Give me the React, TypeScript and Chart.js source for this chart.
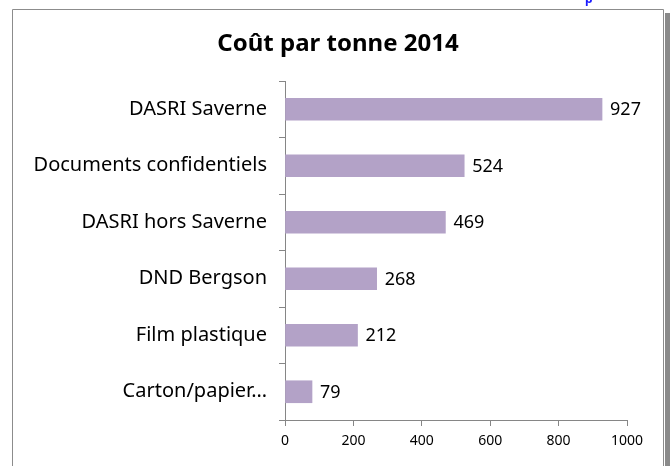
import React, { useEffect, useRef } from "react";
import { Chart, registerables } from "chart.js";
Chart.register(...registerables);

const chartTitle = "Coût par tonne 2014";
const categories = [
  "DASRI Saverne",
  "Documents confidentiels",
  "DASRI hors Saverne",
  "DND Bergson",
  "Film plastique",
  "Carton/papier…",
];
const costPerTonne = [927, 524, 469, 268, 212, 79];
const xMin = 0;
const xMax = 1000;
const xStep = 200;

const FONT = "'Noto Sans'";
const AXIS_COLOR = "#868686";
const BAR_COLOR = "#B3A2C7";

const framePlugin = {
  id: "frame",
  beforeDraw(chart: any) {
    const ctx = chart.ctx;
    const w = chart.width;
    const h = chart.height;
    ctx.save();
    ctx.fillStyle = "#ffffff";
    ctx.fillRect(0, 0, w, h);
    ctx.fillStyle = "#8a8a8a";
    ctx.fillRect(665, 13, 5, h - 13);
    ctx.strokeStyle = "#8c8c8c";
    ctx.lineWidth = 1;
    ctx.beginPath();
    ctx.moveTo(12.5, h);
    ctx.lineTo(12.5, 9.5);
    ctx.lineTo(663.5, 9.5);
    ctx.lineTo(663.5, h);
    ctx.stroke();
    ctx.fillStyle = "#1a1aff";
    ctx.font = "bold 12px " + FONT;
    ctx.textBaseline = "bottom";
    ctx.fillText("p", 585, 6);
    // title, centred on the frame
    ctx.fillStyle = "#000000";
    ctx.font = "bold 24px " + FONT;
    ctx.textAlign = "center";
    ctx.textBaseline = "middle";
    ctx.fillText(chartTitle, 338, 44);
    ctx.restore();
  },
};

const valueLabelPlugin = {
  id: "valueLabels",
  afterDatasetsDraw(chart: any) {
    const ctx = chart.ctx;
    const meta = chart.getDatasetMeta(0);
    const data = chart.data.datasets[0].data as number[];
    ctx.save();
    ctx.fillStyle = "#000000";
    ctx.font = "18px " + FONT;
    ctx.textAlign = "left";
    ctx.textBaseline = "middle";
    meta.data.forEach((bar: any, i: number) => {
      ctx.fillText(String(data[i]), bar.x + 8, bar.y + 1);
    });
    ctx.restore();
  },
};

export default function App() {
  const ref = useRef<HTMLCanvasElement | null>(null);
  useEffect(() => {
    document.body.style.margin = "0";
    const canvas = ref.current!;
    const chart = new Chart(canvas, {
      type: "bar",
      data: {
        labels: categories,
        datasets: [
          {
            data: costPerTonne,
            backgroundColor: BAR_COLOR,
            borderWidth: 0,
            barThickness: 22,
          },
        ],
      },
      options: {
        indexAxis: "y",
        responsive: false,
        animation: false,
        layout: { padding: { left: 0, right: 45, top: 81, bottom: 0 } },
        plugins: {
          legend: { display: false },
          tooltip: { enabled: false },
          title: { display: false },
        },
        scales: {
          x: {
            min: xMin,
            max: xMax,
            ticks: {
              stepSize: xStep,
              color: "#000000",
              font: { family: FONT, size: 14 },
              padding: 7,
              maxRotation: 0,
              callback: (v: any) => String(v),
            },
            grid: {
              drawOnChartArea: false,
              drawTicks: true,
              tickLength: 6,
              color: AXIS_COLOR,
            },
            border: { display: true, color: AXIS_COLOR },
            afterFit(scale: any) {
              scale.height = 46;
            },
          },
          y: {
            ticks: {
              color: "#000000",
              font: { family: FONT, size: 20 },
              padding: 12,
            },
            grid: {
              drawOnChartArea: false,
              drawTicks: true,
              tickLength: 6,
              offset: true,
              color: AXIS_COLOR,
            },
            border: { display: true, color: AXIS_COLOR },
            afterFit(scale: any) {
              scale.width = 285;
            },
          },
        },
      },
      plugins: [framePlugin, valueLabelPlugin],
    });
    return () => chart.destroy();
  }, []);
  return (
    <div style={{ position: "fixed", left: 0, top: 0, width: 672, height: 466 }}>
      <canvas ref={ref} width={672} height={466} style={{ display: "block" }} />
    </div>
  );
}
